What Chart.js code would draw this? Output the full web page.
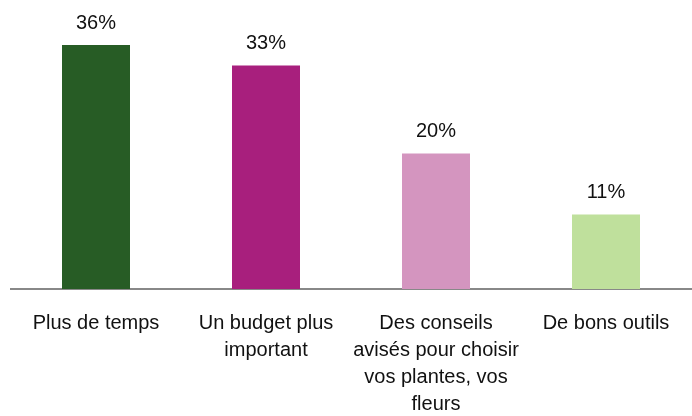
<!DOCTYPE html>
<html>
<head>
<meta charset="utf-8">
<script src="https://cdn.jsdelivr.net/npm/chart.js@4"></script>
<style>
    body { margin: 0; background: #fff; }
</style>
</head>
<body>
<canvas id="chart" width="692" height="416"></canvas>
<script>
const categories = [
    'Plus de temps',
    ['Un budget plus', 'important'],
    ['Des conseils', 'avisés pour choisir', 'vos plantes, vos', 'fleurs'],
    'De bons outils'
];
const values = [36, 33, 20, 11];
const barColors = ['#275c25', '#a81f7d', '#d495bf', '#bfe09c'];

// draws the "36%" labels over each bar
const valueLabels = {
    id: 'valueLabels',
    afterDatasetsDraw(chart) {
        const ctx = chart.ctx;
        const meta = chart.getDatasetMeta(0);
        ctx.save();
        ctx.font = '20px "Liberation Sans", Arial, sans-serif';
        ctx.fillStyle = '#111';
        ctx.textAlign = 'center';
        ctx.textBaseline = 'middle';
        meta.data.forEach((bar, i) => {
            ctx.fillText(values[i] + '%', bar.x, bar.y - 22);
        });
        ctx.restore();
    }
};

new Chart(document.getElementById('chart'), {
    type: 'bar',
    data: {
        labels: categories,
        datasets: [{
            data: values,
            backgroundColor: barColors,
            barPercentage: 0.4,
            categoryPercentage: 1
        }]
    },
    options: {
        responsive: false,
        animation: false,
        layout: { padding: { left: 11, right: 1, top: 18, bottom: 0 } },
        plugins: {
            legend: { display: false },
            tooltip: { enabled: false }
        },
        scales: {
            x: {
                grid: { display: false },
                border: { display: true, color: '#888888', width: 2 },
                ticks: {
                    color: '#111',
                    padding: 13,
                    maxRotation: 0,
                    autoSkip: false,
                    font: { family: '"Liberation Sans", Arial, sans-serif', size: 20, lineHeight: 1.35 }
                },
                afterFit(scale) { scale.height = 127; }
            },
            y: {
                display: false,
                min: 0,
                max: 40
            }
        }
    },
    plugins: [valueLabels]
});
</script>
</body>
</html>
